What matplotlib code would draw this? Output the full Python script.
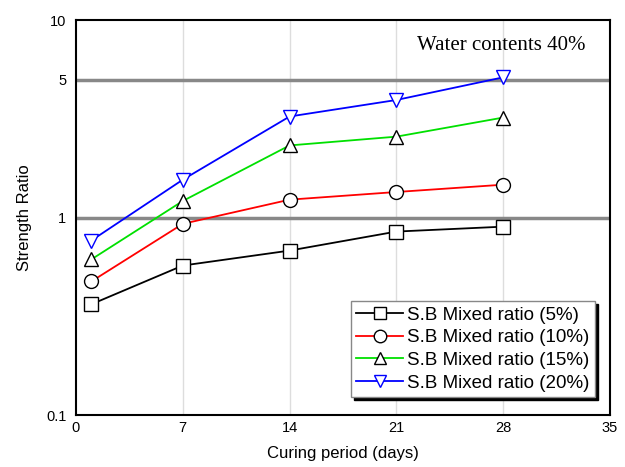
import matplotlib
matplotlib.use('Agg')
import matplotlib.pyplot as plt
from matplotlib.ticker import FixedLocator, NullLocator, FixedFormatter

# data
days = [1, 7, 14, 21, 28]
r5 = [0.364, 0.572, 0.681, 0.85, 0.90]
r10 = [0.475, 0.93, 1.233, 1.348, 1.468]
r15 = [0.614, 1.214, 2.32, 2.57, 3.21]
r20 = [0.765, 1.556, 3.25, 3.94, 5.13]
labels = ['S.B Mixed ratio (5%)', 'S.B Mixed ratio (10%)',
          'S.B Mixed ratio (15%)', 'S.B Mixed ratio (20%)']
xticks = [0, 7, 14, 21, 28, 35]
yticks = [0.1, 1, 5, 10]

plt.rcParams['font.family'] = ['Liberation Sans', 'DejaVu Sans']

fig = plt.figure(figsize=(6.25, 4.67), dpi=100)
ax = fig.add_axes([0.1216, 0.111, 0.8544, 0.846])

ax.set_yscale('log')
ax.set_xlim(0, 35)
ax.set_ylim(0.1, 10)

# grid: light vertical, thick grey horizontal at 1 and 5
for x in xticks[1:-1]:
    ax.axvline(x, color='#dddddd', lw=1, zorder=0)
for y in [1, 5]:
    ax.axhline(y, color='#888888', lw=2.5, zorder=0)

series = [r5, r10, r15, r20]
colors = ['black', 'red', '#00e000', 'blue']
markers = ['s', 'o', '^', 'v']
medges = ['black', 'black', 'black', 'blue']
for vals, c, m, me, lab in zip(series, colors, markers, medges, labels):
    ax.plot(days, vals, color=c, lw=1.3, marker=m, markersize=10,
            markerfacecolor='white', markeredgecolor=me, markeredgewidth=1.0,
            label=lab, zorder=3)

ax.xaxis.set_major_locator(FixedLocator(xticks))
ax.yaxis.set_major_locator(FixedLocator(yticks))
ax.yaxis.set_major_formatter(FixedFormatter(['0.1', '1', '5', '10']))
ax.yaxis.set_minor_locator(NullLocator())
ax.tick_params(axis='x', length=0, labelsize=10.5, pad=4)
ax.tick_params(axis='y', length=0, labelsize=10.5, pad=7)

for s in ax.spines.values():
    s.set_linewidth(1.5)

ax.set_xlabel('Curing period (days)', fontsize=12, labelpad=8)
ax.set_ylabel('Strength Ratio', fontsize=12, labelpad=10)

ax.text(0.955, 0.935, 'Water contents 40%', transform=ax.transAxes,
        ha='right', va='center', fontsize=15, family='Liberation Serif')

leg = ax.legend(loc='lower right', bbox_to_anchor=(0.972, 0.045),
                fontsize=13.5, frameon=True, shadow={'color': 'black', 'alpha': 1},
                fancybox=False, borderpad=0.3, labelspacing=0.3,
                handlelength=2.5, handletextpad=0.2, borderaxespad=0,
                markerscale=0.9)
leg.get_frame().set_edgecolor('#888888')
leg.get_frame().set_linewidth(1)

fig.savefig('out.png', dpi=100)
